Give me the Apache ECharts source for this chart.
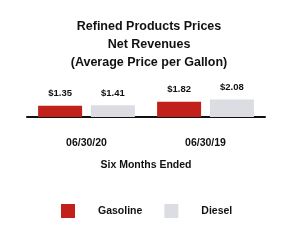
<!DOCTYPE html>
<html lang="en">
<head>
<meta charset="UTF-8">
<title>Refined Products Prices</title>
<style>
  html, body { margin: 0; padding: 0; background: #fff; }
  #main { width: 298px; height: 248px; }
</style>
</head>
<body>
<div id="main"></div>
<script src="https://cdn.jsdelivr.net/npm/echarts@6/dist/echarts.min.js"></script>
<script>
var periods = ['06/30/20', '06/30/19'];
var gasoline = [1.35, 1.82];
var diesel = [1.41, 2.08];
var seriesNames = ['Gasoline', 'Diesel'];

var font = '"Liberation Sans Narrow", "Liberation Sans", Arial, sans-serif';

var myChart = echarts.init(document.getElementById('main'));

function priceLabel(p) {
    return '$' + p.value.toFixed(2);
}

var option = {
    animation: false,
    title: {
        text: 'Refined Products Prices\nNet Revenues\n(Average Price per Gallon)',
        left: 'center',
        top: 18,
        padding: 0,
        textStyle: {
            fontFamily: font,
            fontSize: 12.5,
            fontWeight: 'bold',
            color: '#111',
            lineHeight: 18
        }
    },
    legend: {
        data: seriesNames,
        top: 199,
        left: 56,
        itemWidth: 14,
        itemHeight: 14,
        itemGap: 22,
        icon: 'rect',
        textStyle: {
            fontFamily: font,
            fontSize: 10.5,
            fontWeight: 'bold',
            color: '#111',
            padding: [0, 0, 0, 18]
        }
    },
    grid: {
        left: 27,
        right: 33,
        top: 75,
        bottom: 131
    },
    xAxis: {
        type: 'category',
        data: periods,
        name: 'Six Months Ended',
        nameLocation: 'middle',
        nameGap: 43,
        nameTextStyle: {
            fontFamily: font,
            fontSize: 10.5,
            fontWeight: 'bold',
            color: '#111'
        },
        axisLine: { lineStyle: { color: '#111', width: 2 } },
        axisTick: { alignWithLabel: true, length: 7, lineStyle: { color: '#111' } },
        axisLabel: {
            margin: 21,
            fontFamily: font,
            fontSize: 10.5,
            fontWeight: 'bold',
            color: '#111'
        }
    },
    yAxis: {
        type: 'value',
        min: 0,
        max: 5,
        show: false
    },
    series: [
        {
            name: seriesNames[0],
            type: 'bar',
            data: gasoline,
            barWidth: 44,
            barGap: '20%',
            itemStyle: { color: '#c2211b' },
            label: {
                show: true,
                position: 'top',
                distance: 7,
                formatter: priceLabel,
                fontFamily: font,
                fontSize: 9.5,
                fontWeight: 'bold',
                color: '#111'
            }
        },
        {
            name: seriesNames[1],
            type: 'bar',
            data: diesel,
            barWidth: 44,
            barGap: '20%',
            itemStyle: { color: '#dcdde2' },
            label: {
                show: true,
                position: 'top',
                distance: 7,
                formatter: priceLabel,
                fontFamily: font,
                fontSize: 9.5,
                fontWeight: 'bold',
                color: '#111'
            }
        }
    ]
};

myChart.setOption(option);
</script>
</body>
</html>
